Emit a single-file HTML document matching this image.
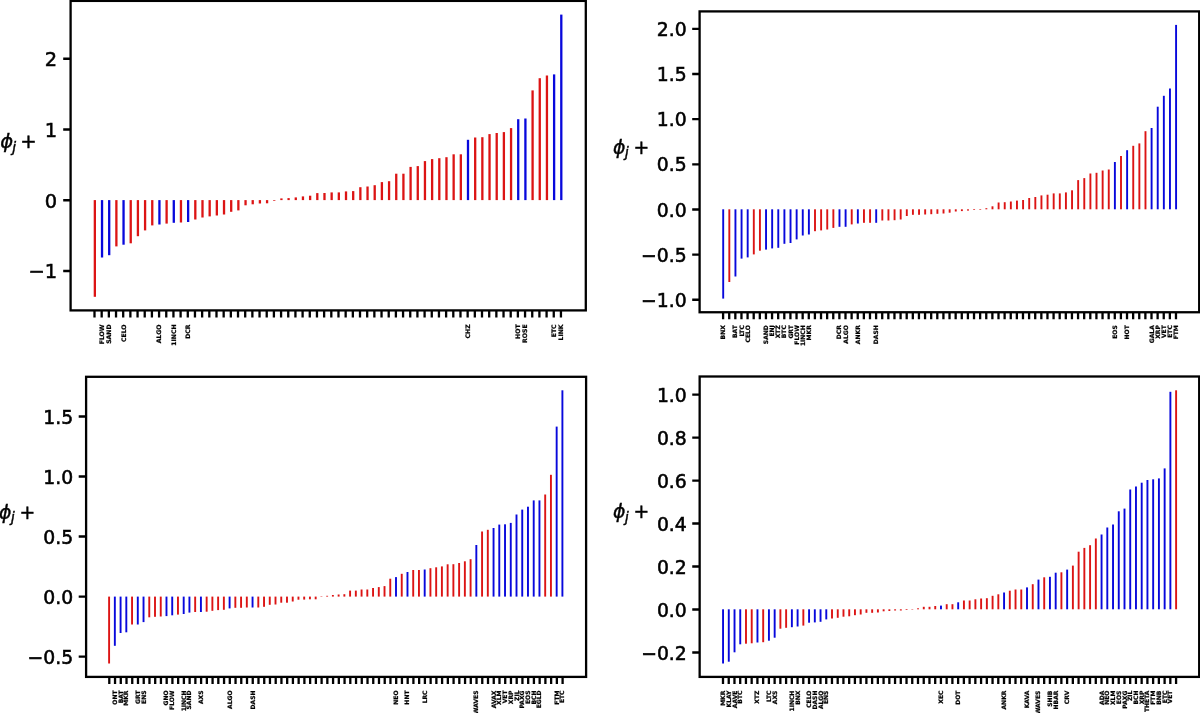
<!DOCTYPE html>
<html lang="en"><head><meta charset="utf-8"><title>phi_j stem plots</title>
<style>html,body{margin:0;padding:0;background:#fff}body{width:1200px;height:713px;overflow:hidden}svg{display:block}.yt{font-family:"DejaVu Sans","Liberation Sans",sans-serif;font-size:19.6px;fill:#000;stroke:#000;stroke-width:.55px}.xl{font-family:"DejaVu Sans","Liberation Sans",sans-serif;font-weight:bold;font-size:6px;fill:#000;stroke:#000;stroke-width:.22px}.yl{font-family:"DejaVu Sans","Liberation Sans",sans-serif;font-size:19.6px;fill:#000;stroke:#000;stroke-width:.45px}.it{font-style:italic}text{filter:grayscale(1)}</style></head><body>
<svg width="1200" height="713" viewBox="0 0 1200 713" style="opacity:.999">
<rect x="0" y="0" width="1200" height="713" fill="#fff"/>
<g id="plot1">
<rect x="93.70" y="200.10" width="2.30" height="96.70" fill="#dc1414"/>
<rect x="100.88" y="200.10" width="2.30" height="57.40" fill="#0808dc"/>
<rect x="108.05" y="200.10" width="2.30" height="55.10" fill="#0808dc"/>
<rect x="115.23" y="200.10" width="2.30" height="46.30" fill="#dc1414"/>
<rect x="122.40" y="200.10" width="2.30" height="44.60" fill="#0808dc"/>
<rect x="129.58" y="200.10" width="2.30" height="43.20" fill="#dc1414"/>
<rect x="136.76" y="200.10" width="2.30" height="36.10" fill="#dc1414"/>
<rect x="143.93" y="200.10" width="2.30" height="30.30" fill="#dc1414"/>
<rect x="151.11" y="200.10" width="2.30" height="25.30" fill="#dc1414"/>
<rect x="158.28" y="200.10" width="2.30" height="24.40" fill="#0808dc"/>
<rect x="165.46" y="200.10" width="2.30" height="23.50" fill="#dc1414"/>
<rect x="172.64" y="200.10" width="2.30" height="22.70" fill="#0808dc"/>
<rect x="179.81" y="200.10" width="2.30" height="22.40" fill="#dc1414"/>
<rect x="186.99" y="200.10" width="2.30" height="21.90" fill="#0808dc"/>
<rect x="194.16" y="200.10" width="2.30" height="19.40" fill="#dc1414"/>
<rect x="201.34" y="200.10" width="2.30" height="17.40" fill="#dc1414"/>
<rect x="208.52" y="200.10" width="2.30" height="16.30" fill="#dc1414"/>
<rect x="215.69" y="200.10" width="2.30" height="15.40" fill="#dc1414"/>
<rect x="222.87" y="200.10" width="2.30" height="14.40" fill="#dc1414"/>
<rect x="230.04" y="200.10" width="2.30" height="11.70" fill="#dc1414"/>
<rect x="237.22" y="200.10" width="2.30" height="10.30" fill="#dc1414"/>
<rect x="244.40" y="200.10" width="2.30" height="5.20" fill="#dc1414"/>
<rect x="251.57" y="200.10" width="2.30" height="4.20" fill="#dc1414"/>
<rect x="258.75" y="200.10" width="2.30" height="3.40" fill="#dc1414"/>
<rect x="265.92" y="200.10" width="2.30" height="3.20" fill="#dc1414"/>
<rect x="273.10" y="200.10" width="2.30" height="0.70" fill="#dc1414"/>
<rect x="280.28" y="198.40" width="2.30" height="1.70" fill="#dc1414"/>
<rect x="287.45" y="198.10" width="2.30" height="2.00" fill="#dc1414"/>
<rect x="294.63" y="197.40" width="2.30" height="2.70" fill="#dc1414"/>
<rect x="301.80" y="196.40" width="2.30" height="3.70" fill="#dc1414"/>
<rect x="308.98" y="195.70" width="2.30" height="4.40" fill="#dc1414"/>
<rect x="316.16" y="193.10" width="2.30" height="7.00" fill="#dc1414"/>
<rect x="323.33" y="193.00" width="2.30" height="7.10" fill="#dc1414"/>
<rect x="330.51" y="192.40" width="2.30" height="7.70" fill="#dc1414"/>
<rect x="337.68" y="192.40" width="2.30" height="7.70" fill="#dc1414"/>
<rect x="344.86" y="191.40" width="2.30" height="8.70" fill="#dc1414"/>
<rect x="352.04" y="191.10" width="2.30" height="9.00" fill="#dc1414"/>
<rect x="359.21" y="187.20" width="2.30" height="12.90" fill="#dc1414"/>
<rect x="366.39" y="186.50" width="2.30" height="13.60" fill="#dc1414"/>
<rect x="373.56" y="185.20" width="2.30" height="14.90" fill="#dc1414"/>
<rect x="380.74" y="182.10" width="2.30" height="18.00" fill="#dc1414"/>
<rect x="387.92" y="181.20" width="2.30" height="18.90" fill="#dc1414"/>
<rect x="395.09" y="173.70" width="2.30" height="26.40" fill="#dc1414"/>
<rect x="402.27" y="173.70" width="2.30" height="26.40" fill="#dc1414"/>
<rect x="409.44" y="166.90" width="2.30" height="33.20" fill="#dc1414"/>
<rect x="416.62" y="166.10" width="2.30" height="34.00" fill="#dc1414"/>
<rect x="423.80" y="161.10" width="2.30" height="39.00" fill="#dc1414"/>
<rect x="430.97" y="159.10" width="2.30" height="41.00" fill="#dc1414"/>
<rect x="438.15" y="158.20" width="2.30" height="41.90" fill="#dc1414"/>
<rect x="445.32" y="157.20" width="2.30" height="42.90" fill="#dc1414"/>
<rect x="452.50" y="154.30" width="2.30" height="45.80" fill="#dc1414"/>
<rect x="459.68" y="154.30" width="2.30" height="45.80" fill="#dc1414"/>
<rect x="466.85" y="139.80" width="2.30" height="60.30" fill="#0808dc"/>
<rect x="474.03" y="137.50" width="2.30" height="62.60" fill="#dc1414"/>
<rect x="481.20" y="137.20" width="2.30" height="62.90" fill="#dc1414"/>
<rect x="488.38" y="134.10" width="2.30" height="66.00" fill="#dc1414"/>
<rect x="495.56" y="133.00" width="2.30" height="67.10" fill="#dc1414"/>
<rect x="502.73" y="132.10" width="2.30" height="68.00" fill="#dc1414"/>
<rect x="509.91" y="128.10" width="2.30" height="72.00" fill="#dc1414"/>
<rect x="517.08" y="119.20" width="2.30" height="80.90" fill="#0808dc"/>
<rect x="524.26" y="118.50" width="2.30" height="81.60" fill="#0808dc"/>
<rect x="531.44" y="90.40" width="2.30" height="109.70" fill="#dc1414"/>
<rect x="538.61" y="78.20" width="2.30" height="121.90" fill="#dc1414"/>
<rect x="545.79" y="75.50" width="2.30" height="124.60" fill="#dc1414"/>
<rect x="552.96" y="74.40" width="2.30" height="125.70" fill="#0808dc"/>
<rect x="560.14" y="14.60" width="2.30" height="185.50" fill="#0808dc"/>
<rect x="70.60" y="0.90" width="515.20" height="309.50" fill="none" stroke="#000" stroke-width="2.3"/>
<path d="M94.50 310.40v7.00M101.68 310.40v7.00M108.85 310.40v7.00M116.03 310.40v7.00M123.20 310.40v7.00M130.38 310.40v7.00M137.56 310.40v7.00M144.73 310.40v7.00M151.91 310.40v7.00M159.08 310.40v7.00M166.26 310.40v7.00M173.44 310.40v7.00M180.61 310.40v7.00M187.79 310.40v7.00M194.96 310.40v7.00M202.14 310.40v7.00M209.32 310.40v7.00M216.49 310.40v7.00M223.67 310.40v7.00M230.84 310.40v7.00M238.02 310.40v7.00M245.20 310.40v7.00M252.37 310.40v7.00M259.55 310.40v7.00M266.72 310.40v7.00M273.90 310.40v7.00M281.08 310.40v7.00M288.25 310.40v7.00M295.43 310.40v7.00M302.60 310.40v7.00M309.78 310.40v7.00M316.96 310.40v7.00M324.13 310.40v7.00M331.31 310.40v7.00M338.48 310.40v7.00M345.66 310.40v7.00M352.84 310.40v7.00M360.01 310.40v7.00M367.19 310.40v7.00M374.36 310.40v7.00M381.54 310.40v7.00M388.72 310.40v7.00M395.89 310.40v7.00M403.07 310.40v7.00M410.24 310.40v7.00M417.42 310.40v7.00M424.60 310.40v7.00M431.77 310.40v7.00M438.95 310.40v7.00M446.12 310.40v7.00M453.30 310.40v7.00M460.48 310.40v7.00M467.65 310.40v7.00M474.83 310.40v7.00M482.00 310.40v7.00M489.18 310.40v7.00M496.36 310.40v7.00M503.53 310.40v7.00M510.71 310.40v7.00M517.88 310.40v7.00M525.06 310.40v7.00M532.24 310.40v7.00M539.41 310.40v7.00M546.59 310.40v7.00M553.76 310.40v7.00M560.94 310.40v7.00" stroke="#000" stroke-width="2.3" fill="none"/>
<path d="M70.60 58.75h-7.4M70.60 129.50h-7.4M70.60 200.25h-7.4M70.60 271.00h-7.4" stroke="#000" stroke-width="2.3" fill="none"/>
<text class="yt" style="font-size:19.4px" x="57.00" y="66.00" text-anchor="end">2</text>
<text class="yt" style="font-size:19.4px" x="57.00" y="137.00" text-anchor="end">1</text>
<text class="yt" style="font-size:19.4px" x="57.00" y="208.00" text-anchor="end">0</text>
<text class="yt" style="font-size:19.4px" x="57.00" y="278.00" text-anchor="end">−1</text>
<text class="xl" style="font-size:6.15px" transform="translate(104.03 324.40) rotate(-90)" text-anchor="end">FLOW</text>
<text class="xl" style="font-size:6.15px" transform="translate(111.20 324.40) rotate(-90)" text-anchor="end">SAND</text>
<text class="xl" style="font-size:6.15px" transform="translate(125.55 324.40) rotate(-90)" text-anchor="end">CELO</text>
<text class="xl" style="font-size:6.15px" transform="translate(161.43 324.40) rotate(-90)" text-anchor="end">ALGO</text>
<text class="xl" style="font-size:6.15px" transform="translate(175.79 324.40) rotate(-90)" text-anchor="end">1INCH</text>
<text class="xl" style="font-size:6.15px" transform="translate(190.14 324.40) rotate(-90)" text-anchor="end">DCR</text>
<text class="xl" style="font-size:6.15px" transform="translate(470.00 324.40) rotate(-90)" text-anchor="end">CHZ</text>
<text class="xl" style="font-size:6.15px" transform="translate(520.23 324.40) rotate(-90)" text-anchor="end">HOT</text>
<text class="xl" style="font-size:6.15px" transform="translate(527.41 324.40) rotate(-90)" text-anchor="end">ROSE</text>
<text class="xl" style="font-size:6.15px" transform="translate(556.11 324.40) rotate(-90)" text-anchor="end">ETC</text>
<text class="xl" style="font-size:6.15px" transform="translate(563.29 324.40) rotate(-90)" text-anchor="end">LINK</text>
<text class="yl" style="font-size:19.6px" x="0.30" y="148.00"><tspan class="it">ϕ</tspan><tspan class="it" style="font-size:13.7px" dy="3.7" dx="-1.1">j</tspan><tspan dy="-3.7" dx="4.4">+</tspan></text>
</g>
<g id="plot2">
<rect x="722.25" y="209.30" width="1.90" height="89.30" fill="#0808dc"/>
<rect x="728.37" y="209.30" width="1.90" height="72.70" fill="#dc1414"/>
<rect x="734.49" y="209.30" width="1.90" height="67.20" fill="#0808dc"/>
<rect x="740.61" y="209.30" width="1.90" height="49.30" fill="#0808dc"/>
<rect x="746.73" y="209.30" width="1.90" height="48.10" fill="#0808dc"/>
<rect x="752.85" y="209.30" width="1.90" height="45.10" fill="#dc1414"/>
<rect x="758.97" y="209.30" width="1.90" height="41.40" fill="#dc1414"/>
<rect x="765.09" y="209.30" width="1.90" height="40.30" fill="#0808dc"/>
<rect x="771.21" y="209.30" width="1.90" height="39.10" fill="#0808dc"/>
<rect x="777.33" y="209.30" width="1.90" height="38.50" fill="#0808dc"/>
<rect x="783.45" y="209.30" width="1.90" height="34.50" fill="#0808dc"/>
<rect x="789.57" y="209.30" width="1.90" height="33.70" fill="#0808dc"/>
<rect x="795.69" y="209.30" width="1.90" height="30.10" fill="#0808dc"/>
<rect x="801.81" y="209.30" width="1.90" height="26.20" fill="#0808dc"/>
<rect x="807.93" y="209.30" width="1.90" height="25.20" fill="#0808dc"/>
<rect x="814.05" y="209.30" width="1.90" height="21.90" fill="#dc1414"/>
<rect x="820.17" y="209.30" width="1.90" height="21.10" fill="#dc1414"/>
<rect x="826.29" y="209.30" width="1.90" height="20.20" fill="#dc1414"/>
<rect x="832.41" y="209.30" width="1.90" height="18.60" fill="#dc1414"/>
<rect x="838.53" y="209.30" width="1.90" height="17.50" fill="#0808dc"/>
<rect x="844.65" y="209.30" width="1.90" height="17.50" fill="#0808dc"/>
<rect x="850.77" y="209.30" width="1.90" height="15.10" fill="#dc1414"/>
<rect x="856.89" y="209.30" width="1.90" height="14.20" fill="#0808dc"/>
<rect x="863.01" y="209.30" width="1.90" height="13.50" fill="#dc1414"/>
<rect x="869.13" y="209.30" width="1.90" height="13.50" fill="#dc1414"/>
<rect x="875.25" y="209.30" width="1.90" height="13.50" fill="#0808dc"/>
<rect x="881.37" y="209.30" width="1.90" height="11.20" fill="#dc1414"/>
<rect x="887.49" y="209.30" width="1.90" height="11.20" fill="#dc1414"/>
<rect x="893.61" y="209.30" width="1.90" height="10.90" fill="#dc1414"/>
<rect x="899.73" y="209.30" width="1.90" height="10.20" fill="#dc1414"/>
<rect x="905.85" y="209.30" width="1.90" height="6.70" fill="#dc1414"/>
<rect x="911.97" y="209.30" width="1.90" height="5.50" fill="#dc1414"/>
<rect x="918.09" y="209.30" width="1.90" height="5.50" fill="#dc1414"/>
<rect x="924.21" y="209.30" width="1.90" height="5.20" fill="#dc1414"/>
<rect x="930.33" y="209.30" width="1.90" height="4.90" fill="#dc1414"/>
<rect x="936.45" y="209.30" width="1.90" height="4.50" fill="#dc1414"/>
<rect x="942.57" y="209.30" width="1.90" height="4.20" fill="#dc1414"/>
<rect x="948.69" y="209.30" width="1.90" height="3.40" fill="#dc1414"/>
<rect x="954.81" y="209.30" width="1.90" height="2.20" fill="#dc1414"/>
<rect x="960.93" y="209.30" width="1.90" height="1.80" fill="#dc1414"/>
<rect x="967.05" y="209.30" width="1.90" height="1.30" fill="#dc1414"/>
<rect x="973.17" y="209.30" width="1.90" height="0.70" fill="#dc1414"/>
<rect x="979.29" y="209.30" width="1.90" height="0.60" fill="#dc1414"/>
<rect x="985.41" y="208.20" width="1.90" height="1.10" fill="#dc1414"/>
<rect x="991.53" y="206.30" width="1.90" height="3.00" fill="#dc1414"/>
<rect x="997.65" y="202.50" width="1.90" height="6.80" fill="#dc1414"/>
<rect x="1003.77" y="202.20" width="1.90" height="7.10" fill="#dc1414"/>
<rect x="1009.89" y="201.50" width="1.90" height="7.80" fill="#dc1414"/>
<rect x="1016.01" y="200.60" width="1.90" height="8.70" fill="#dc1414"/>
<rect x="1022.13" y="200.00" width="1.90" height="9.30" fill="#dc1414"/>
<rect x="1028.25" y="198.00" width="1.90" height="11.30" fill="#dc1414"/>
<rect x="1034.37" y="197.00" width="1.90" height="12.30" fill="#dc1414"/>
<rect x="1040.49" y="195.40" width="1.90" height="13.90" fill="#dc1414"/>
<rect x="1046.61" y="194.70" width="1.90" height="14.60" fill="#dc1414"/>
<rect x="1052.73" y="193.40" width="1.90" height="15.90" fill="#dc1414"/>
<rect x="1058.85" y="193.40" width="1.90" height="15.90" fill="#dc1414"/>
<rect x="1064.97" y="192.40" width="1.90" height="16.90" fill="#dc1414"/>
<rect x="1071.09" y="190.30" width="1.90" height="19.00" fill="#dc1414"/>
<rect x="1077.21" y="180.10" width="1.90" height="29.20" fill="#dc1414"/>
<rect x="1083.33" y="178.10" width="1.90" height="31.20" fill="#dc1414"/>
<rect x="1089.45" y="173.50" width="1.90" height="35.80" fill="#dc1414"/>
<rect x="1095.57" y="172.80" width="1.90" height="36.50" fill="#dc1414"/>
<rect x="1101.69" y="170.50" width="1.90" height="38.80" fill="#dc1414"/>
<rect x="1107.81" y="169.50" width="1.90" height="39.80" fill="#dc1414"/>
<rect x="1113.93" y="162.00" width="1.90" height="47.30" fill="#0808dc"/>
<rect x="1120.05" y="156.00" width="1.90" height="53.30" fill="#dc1414"/>
<rect x="1126.17" y="150.20" width="1.90" height="59.10" fill="#0808dc"/>
<rect x="1132.29" y="145.80" width="1.90" height="63.50" fill="#dc1414"/>
<rect x="1138.41" y="143.40" width="1.90" height="65.90" fill="#dc1414"/>
<rect x="1144.53" y="131.20" width="1.90" height="78.10" fill="#dc1414"/>
<rect x="1150.65" y="128.00" width="1.90" height="81.30" fill="#0808dc"/>
<rect x="1156.77" y="106.70" width="1.90" height="102.60" fill="#0808dc"/>
<rect x="1162.89" y="95.80" width="1.90" height="113.50" fill="#0808dc"/>
<rect x="1169.01" y="88.50" width="1.90" height="120.80" fill="#0808dc"/>
<rect x="1175.13" y="24.90" width="1.90" height="184.40" fill="#0808dc"/>
<rect x="699.60" y="11.40" width="499.60" height="300.85" fill="none" stroke="#000" stroke-width="2.3"/>
<path d="M723.10 312.25v7.00M729.22 312.25v7.00M735.34 312.25v7.00M741.46 312.25v7.00M747.58 312.25v7.00M753.70 312.25v7.00M759.82 312.25v7.00M765.94 312.25v7.00M772.06 312.25v7.00M778.18 312.25v7.00M784.30 312.25v7.00M790.42 312.25v7.00M796.54 312.25v7.00M802.66 312.25v7.00M808.78 312.25v7.00M814.90 312.25v7.00M821.02 312.25v7.00M827.14 312.25v7.00M833.26 312.25v7.00M839.38 312.25v7.00M845.50 312.25v7.00M851.62 312.25v7.00M857.74 312.25v7.00M863.86 312.25v7.00M869.98 312.25v7.00M876.10 312.25v7.00M882.22 312.25v7.00M888.34 312.25v7.00M894.46 312.25v7.00M900.58 312.25v7.00M906.70 312.25v7.00M912.82 312.25v7.00M918.94 312.25v7.00M925.06 312.25v7.00M931.18 312.25v7.00M937.30 312.25v7.00M943.42 312.25v7.00M949.54 312.25v7.00M955.66 312.25v7.00M961.78 312.25v7.00M967.90 312.25v7.00M974.02 312.25v7.00M980.14 312.25v7.00M986.26 312.25v7.00M992.38 312.25v7.00M998.50 312.25v7.00M1004.62 312.25v7.00M1010.74 312.25v7.00M1016.86 312.25v7.00M1022.98 312.25v7.00M1029.10 312.25v7.00M1035.22 312.25v7.00M1041.34 312.25v7.00M1047.46 312.25v7.00M1053.58 312.25v7.00M1059.70 312.25v7.00M1065.82 312.25v7.00M1071.94 312.25v7.00M1078.06 312.25v7.00M1084.18 312.25v7.00M1090.30 312.25v7.00M1096.42 312.25v7.00M1102.54 312.25v7.00M1108.66 312.25v7.00M1114.78 312.25v7.00M1120.90 312.25v7.00M1127.02 312.25v7.00M1133.14 312.25v7.00M1139.26 312.25v7.00M1145.38 312.25v7.00M1151.50 312.25v7.00M1157.62 312.25v7.00M1163.74 312.25v7.00M1169.86 312.25v7.00M1175.98 312.25v7.00" stroke="#000" stroke-width="2.3" fill="none"/>
<path d="M699.60 28.90h-7.4M699.60 74.00h-7.4M699.60 119.20h-7.4M699.60 164.30h-7.4M699.60 209.50h-7.4M699.60 254.60h-7.4M699.60 299.75h-7.4" stroke="#000" stroke-width="2.3" fill="none"/>
<text class="yt" style="font-size:18.8px" x="686.70" y="36.00" text-anchor="end">2.0</text>
<text class="yt" style="font-size:18.8px" x="686.70" y="81.00" text-anchor="end">1.5</text>
<text class="yt" style="font-size:18.8px" x="686.70" y="126.00" text-anchor="end">1.0</text>
<text class="yt" style="font-size:18.8px" x="686.70" y="171.00" text-anchor="end">0.5</text>
<text class="yt" style="font-size:18.8px" x="686.70" y="217.00" text-anchor="end">0.0</text>
<text class="yt" style="font-size:18.8px" x="686.70" y="262.00" text-anchor="end">−0.5</text>
<text class="yt" style="font-size:18.8px" x="686.70" y="307.00" text-anchor="end">−1.0</text>
<text class="xl" style="font-size:6px" transform="translate(725.20 325.20) rotate(-90)" text-anchor="end">BNX</text>
<text class="xl" style="font-size:6px" transform="translate(737.44 325.20) rotate(-90)" text-anchor="end">BAT</text>
<text class="xl" style="font-size:6px" transform="translate(743.56 325.20) rotate(-90)" text-anchor="end">LTC</text>
<text class="xl" style="font-size:6px" transform="translate(749.68 325.20) rotate(-90)" text-anchor="end">CELO</text>
<text class="xl" style="font-size:6px" transform="translate(768.04 325.20) rotate(-90)" text-anchor="end">SAND</text>
<text class="xl" style="font-size:6px" transform="translate(774.16 325.20) rotate(-90)" text-anchor="end">ENJ</text>
<text class="xl" style="font-size:6px" transform="translate(780.28 325.20) rotate(-90)" text-anchor="end">XTZ</text>
<text class="xl" style="font-size:6px" transform="translate(786.40 325.20) rotate(-90)" text-anchor="end">BTC</text>
<text class="xl" style="font-size:6px" transform="translate(792.52 325.20) rotate(-90)" text-anchor="end">GRT</text>
<text class="xl" style="font-size:6px" transform="translate(798.64 325.20) rotate(-90)" text-anchor="end">FLOW</text>
<text class="xl" style="font-size:6px" transform="translate(804.76 325.20) rotate(-90)" text-anchor="end">1INCH</text>
<text class="xl" style="font-size:6px" transform="translate(810.88 325.20) rotate(-90)" text-anchor="end">MKR</text>
<text class="xl" style="font-size:6px" transform="translate(841.48 325.20) rotate(-90)" text-anchor="end">DCR</text>
<text class="xl" style="font-size:6px" transform="translate(847.60 325.20) rotate(-90)" text-anchor="end">ALGO</text>
<text class="xl" style="font-size:6px" transform="translate(859.84 325.20) rotate(-90)" text-anchor="end">ANKR</text>
<text class="xl" style="font-size:6px" transform="translate(878.20 325.20) rotate(-90)" text-anchor="end">DASH</text>
<text class="xl" style="font-size:6px" transform="translate(1116.88 325.20) rotate(-90)" text-anchor="end">EOS</text>
<text class="xl" style="font-size:6px" transform="translate(1129.12 325.20) rotate(-90)" text-anchor="end">HOT</text>
<text class="xl" style="font-size:6px" transform="translate(1153.60 325.20) rotate(-90)" text-anchor="end">GALA</text>
<text class="xl" style="font-size:6px" transform="translate(1159.72 325.20) rotate(-90)" text-anchor="end">XRP</text>
<text class="xl" style="font-size:6px" transform="translate(1165.84 325.20) rotate(-90)" text-anchor="end">VET</text>
<text class="xl" style="font-size:6px" transform="translate(1171.96 325.20) rotate(-90)" text-anchor="end">ETC</text>
<text class="xl" style="font-size:6px" transform="translate(1178.08 325.20) rotate(-90)" text-anchor="end">FTM</text>
<text class="yl" style="font-size:18.8px" x="613.00" y="153.50"><tspan class="it">ϕ</tspan><tspan class="it" style="font-size:13.2px" dy="3.6" dx="-0.3">j</tspan><tspan dy="-3.6" dx="4.7">+</tspan></text>
</g>
<g id="plot3">
<rect x="108.15" y="596.60" width="1.90" height="66.90" fill="#dc1414"/>
<rect x="113.89" y="596.60" width="1.90" height="49.20" fill="#0808dc"/>
<rect x="119.63" y="596.60" width="1.90" height="36.40" fill="#0808dc"/>
<rect x="125.36" y="596.60" width="1.90" height="35.70" fill="#0808dc"/>
<rect x="131.10" y="596.60" width="1.90" height="27.90" fill="#dc1414"/>
<rect x="136.84" y="596.60" width="1.90" height="27.90" fill="#0808dc"/>
<rect x="142.58" y="596.60" width="1.90" height="25.50" fill="#0808dc"/>
<rect x="148.32" y="596.60" width="1.90" height="20.70" fill="#dc1414"/>
<rect x="154.05" y="596.60" width="1.90" height="20.20" fill="#dc1414"/>
<rect x="159.79" y="596.60" width="1.90" height="19.90" fill="#dc1414"/>
<rect x="165.53" y="596.60" width="1.90" height="19.50" fill="#0808dc"/>
<rect x="171.27" y="596.60" width="1.90" height="18.70" fill="#0808dc"/>
<rect x="177.01" y="596.60" width="1.90" height="18.00" fill="#dc1414"/>
<rect x="182.74" y="596.60" width="1.90" height="17.40" fill="#0808dc"/>
<rect x="188.48" y="596.60" width="1.90" height="16.00" fill="#0808dc"/>
<rect x="194.22" y="596.60" width="1.90" height="15.40" fill="#dc1414"/>
<rect x="199.96" y="596.60" width="1.90" height="15.40" fill="#0808dc"/>
<rect x="205.70" y="596.60" width="1.90" height="15.10" fill="#dc1414"/>
<rect x="211.43" y="596.60" width="1.90" height="14.20" fill="#dc1414"/>
<rect x="217.17" y="596.60" width="1.90" height="13.50" fill="#dc1414"/>
<rect x="222.91" y="596.60" width="1.90" height="13.20" fill="#dc1414"/>
<rect x="228.65" y="596.60" width="1.90" height="11.80" fill="#0808dc"/>
<rect x="234.39" y="596.60" width="1.90" height="11.20" fill="#dc1414"/>
<rect x="240.12" y="596.60" width="1.90" height="11.20" fill="#dc1414"/>
<rect x="245.86" y="596.60" width="1.90" height="10.90" fill="#dc1414"/>
<rect x="251.60" y="596.60" width="1.90" height="10.90" fill="#0808dc"/>
<rect x="257.34" y="596.60" width="1.90" height="10.90" fill="#dc1414"/>
<rect x="263.08" y="596.60" width="1.90" height="10.20" fill="#dc1414"/>
<rect x="268.81" y="596.60" width="1.90" height="8.20" fill="#dc1414"/>
<rect x="274.55" y="596.60" width="1.90" height="7.90" fill="#dc1414"/>
<rect x="280.29" y="596.60" width="1.90" height="6.10" fill="#dc1414"/>
<rect x="286.03" y="596.60" width="1.90" height="6.10" fill="#dc1414"/>
<rect x="291.77" y="596.60" width="1.90" height="4.90" fill="#dc1414"/>
<rect x="297.50" y="596.60" width="1.90" height="3.10" fill="#dc1414"/>
<rect x="303.24" y="596.60" width="1.90" height="3.00" fill="#dc1414"/>
<rect x="308.98" y="596.60" width="1.90" height="2.70" fill="#dc1414"/>
<rect x="314.72" y="596.60" width="1.90" height="2.70" fill="#dc1414"/>
<rect x="320.46" y="596.60" width="1.90" height="0.40" fill="#dc1414"/>
<rect x="326.19" y="595.80" width="1.90" height="0.80" fill="#dc1414"/>
<rect x="331.93" y="595.00" width="1.90" height="1.60" fill="#dc1414"/>
<rect x="337.67" y="594.50" width="1.90" height="2.10" fill="#dc1414"/>
<rect x="343.41" y="594.20" width="1.90" height="2.40" fill="#dc1414"/>
<rect x="349.15" y="590.60" width="1.90" height="6.00" fill="#dc1414"/>
<rect x="354.88" y="590.60" width="1.90" height="6.00" fill="#dc1414"/>
<rect x="360.62" y="589.50" width="1.90" height="7.10" fill="#dc1414"/>
<rect x="366.36" y="589.50" width="1.90" height="7.10" fill="#dc1414"/>
<rect x="372.10" y="588.00" width="1.90" height="8.60" fill="#dc1414"/>
<rect x="377.84" y="587.10" width="1.90" height="9.50" fill="#dc1414"/>
<rect x="383.57" y="586.10" width="1.90" height="10.50" fill="#dc1414"/>
<rect x="389.31" y="578.70" width="1.90" height="17.90" fill="#dc1414"/>
<rect x="395.05" y="577.10" width="1.90" height="19.50" fill="#0808dc"/>
<rect x="400.79" y="573.80" width="1.90" height="22.80" fill="#dc1414"/>
<rect x="406.53" y="572.00" width="1.90" height="24.60" fill="#0808dc"/>
<rect x="412.26" y="570.00" width="1.90" height="26.60" fill="#dc1414"/>
<rect x="418.00" y="570.00" width="1.90" height="26.60" fill="#dc1414"/>
<rect x="423.74" y="569.50" width="1.90" height="27.10" fill="#0808dc"/>
<rect x="429.48" y="568.20" width="1.90" height="28.40" fill="#dc1414"/>
<rect x="435.22" y="567.30" width="1.90" height="29.30" fill="#dc1414"/>
<rect x="440.95" y="566.40" width="1.90" height="30.20" fill="#dc1414"/>
<rect x="446.69" y="564.30" width="1.90" height="32.30" fill="#dc1414"/>
<rect x="452.43" y="564.20" width="1.90" height="32.40" fill="#dc1414"/>
<rect x="458.17" y="563.00" width="1.90" height="33.60" fill="#dc1414"/>
<rect x="463.91" y="561.30" width="1.90" height="35.30" fill="#dc1414"/>
<rect x="469.64" y="559.20" width="1.90" height="37.40" fill="#dc1414"/>
<rect x="475.38" y="545.00" width="1.90" height="51.60" fill="#0808dc"/>
<rect x="481.12" y="531.50" width="1.90" height="65.10" fill="#dc1414"/>
<rect x="486.86" y="529.80" width="1.90" height="66.80" fill="#dc1414"/>
<rect x="492.60" y="528.00" width="1.90" height="68.60" fill="#0808dc"/>
<rect x="498.33" y="524.60" width="1.90" height="72.00" fill="#0808dc"/>
<rect x="504.07" y="524.30" width="1.90" height="72.30" fill="#0808dc"/>
<rect x="509.81" y="522.90" width="1.90" height="73.70" fill="#0808dc"/>
<rect x="515.55" y="514.50" width="1.90" height="82.10" fill="#0808dc"/>
<rect x="521.29" y="509.60" width="1.90" height="87.00" fill="#0808dc"/>
<rect x="527.02" y="506.70" width="1.90" height="89.90" fill="#0808dc"/>
<rect x="532.76" y="500.40" width="1.90" height="96.20" fill="#0808dc"/>
<rect x="538.50" y="500.40" width="1.90" height="96.20" fill="#0808dc"/>
<rect x="544.24" y="494.50" width="1.90" height="102.10" fill="#dc1414"/>
<rect x="549.98" y="474.80" width="1.90" height="121.80" fill="#dc1414"/>
<rect x="555.71" y="426.60" width="1.90" height="170.00" fill="#0808dc"/>
<rect x="561.45" y="390.30" width="1.90" height="206.30" fill="#0808dc"/>
<rect x="86.10" y="376.80" width="500.00" height="300.10" fill="none" stroke="#000" stroke-width="2.3"/>
<path d="M109.30 676.90v7.00M115.04 676.90v7.00M120.78 676.90v7.00M126.51 676.90v7.00M132.25 676.90v7.00M137.99 676.90v7.00M143.73 676.90v7.00M149.47 676.90v7.00M155.20 676.90v7.00M160.94 676.90v7.00M166.68 676.90v7.00M172.42 676.90v7.00M178.16 676.90v7.00M183.89 676.90v7.00M189.63 676.90v7.00M195.37 676.90v7.00M201.11 676.90v7.00M206.85 676.90v7.00M212.58 676.90v7.00M218.32 676.90v7.00M224.06 676.90v7.00M229.80 676.90v7.00M235.54 676.90v7.00M241.27 676.90v7.00M247.01 676.90v7.00M252.75 676.90v7.00M258.49 676.90v7.00M264.23 676.90v7.00M269.96 676.90v7.00M275.70 676.90v7.00M281.44 676.90v7.00M287.18 676.90v7.00M292.92 676.90v7.00M298.65 676.90v7.00M304.39 676.90v7.00M310.13 676.90v7.00M315.87 676.90v7.00M321.61 676.90v7.00M327.34 676.90v7.00M333.08 676.90v7.00M338.82 676.90v7.00M344.56 676.90v7.00M350.30 676.90v7.00M356.03 676.90v7.00M361.77 676.90v7.00M367.51 676.90v7.00M373.25 676.90v7.00M378.99 676.90v7.00M384.72 676.90v7.00M390.46 676.90v7.00M396.20 676.90v7.00M401.94 676.90v7.00M407.68 676.90v7.00M413.41 676.90v7.00M419.15 676.90v7.00M424.89 676.90v7.00M430.63 676.90v7.00M436.37 676.90v7.00M442.10 676.90v7.00M447.84 676.90v7.00M453.58 676.90v7.00M459.32 676.90v7.00M465.06 676.90v7.00M470.79 676.90v7.00M476.53 676.90v7.00M482.27 676.90v7.00M488.01 676.90v7.00M493.75 676.90v7.00M499.48 676.90v7.00M505.22 676.90v7.00M510.96 676.90v7.00M516.70 676.90v7.00M522.44 676.90v7.00M528.17 676.90v7.00M533.91 676.90v7.00M539.65 676.90v7.00M545.39 676.90v7.00M551.13 676.90v7.00M556.86 676.90v7.00M562.60 676.90v7.00" stroke="#000" stroke-width="2.3" fill="none"/>
<path d="M86.10 416.50h-7.4M86.10 476.50h-7.4M86.10 536.50h-7.4M86.10 596.60h-7.4M86.10 656.60h-7.4" stroke="#000" stroke-width="2.3" fill="none"/>
<text class="yt" style="font-size:18.8px" x="73.20" y="424.00" text-anchor="end">1.5</text>
<text class="yt" style="font-size:18.8px" x="73.20" y="484.00" text-anchor="end">1.0</text>
<text class="yt" style="font-size:18.8px" x="73.20" y="544.00" text-anchor="end">0.5</text>
<text class="yt" style="font-size:18.8px" x="73.20" y="604.00" text-anchor="end">0.0</text>
<text class="yt" style="font-size:18.8px" x="73.20" y="664.00" text-anchor="end">−0.5</text>
<text class="xl" style="font-size:6px" transform="translate(116.84 690.50) rotate(-90)" text-anchor="end">ONT</text>
<text class="xl" style="font-size:6px" transform="translate(122.58 690.50) rotate(-90)" text-anchor="end">BAT</text>
<text class="xl" style="font-size:6px" transform="translate(128.31 690.50) rotate(-90)" text-anchor="end">MKR</text>
<text class="xl" style="font-size:6px" transform="translate(139.79 690.50) rotate(-90)" text-anchor="end">GRT</text>
<text class="xl" style="font-size:6px" transform="translate(145.53 690.50) rotate(-90)" text-anchor="end">ENS</text>
<text class="xl" style="font-size:6px" transform="translate(168.48 690.50) rotate(-90)" text-anchor="end">GNO</text>
<text class="xl" style="font-size:6px" transform="translate(174.22 690.50) rotate(-90)" text-anchor="end">FLOW</text>
<text class="xl" style="font-size:6px" transform="translate(185.69 690.50) rotate(-90)" text-anchor="end">1INCH</text>
<text class="xl" style="font-size:6px" transform="translate(191.43 690.50) rotate(-90)" text-anchor="end">SAND</text>
<text class="xl" style="font-size:6px" transform="translate(202.91 690.50) rotate(-90)" text-anchor="end">AXS</text>
<text class="xl" style="font-size:6px" transform="translate(231.60 690.50) rotate(-90)" text-anchor="end">ALGO</text>
<text class="xl" style="font-size:6px" transform="translate(254.55 690.50) rotate(-90)" text-anchor="end">DASH</text>
<text class="xl" style="font-size:6px" transform="translate(398.00 690.50) rotate(-90)" text-anchor="end">NEO</text>
<text class="xl" style="font-size:6px" transform="translate(409.48 690.50) rotate(-90)" text-anchor="end">HNT</text>
<text class="xl" style="font-size:6px" transform="translate(426.69 690.50) rotate(-90)" text-anchor="end">LRC</text>
<text class="xl" style="font-size:6px" transform="translate(478.33 690.50) rotate(-90)" text-anchor="end">WAVES</text>
<text class="xl" style="font-size:6px" transform="translate(495.55 690.50) rotate(-90)" text-anchor="end">AVAX</text>
<text class="xl" style="font-size:6px" transform="translate(501.28 690.50) rotate(-90)" text-anchor="end">XLM</text>
<text class="xl" style="font-size:6px" transform="translate(507.02 690.50) rotate(-90)" text-anchor="end">VET</text>
<text class="xl" style="font-size:6px" transform="translate(512.76 690.50) rotate(-90)" text-anchor="end">XRP</text>
<text class="xl" style="font-size:6px" transform="translate(518.50 690.50) rotate(-90)" text-anchor="end">ZIL</text>
<text class="xl" style="font-size:6px" transform="translate(524.24 690.50) rotate(-90)" text-anchor="end">PAXG</text>
<text class="xl" style="font-size:6px" transform="translate(529.97 690.50) rotate(-90)" text-anchor="end">EOS</text>
<text class="xl" style="font-size:6px" transform="translate(535.71 690.50) rotate(-90)" text-anchor="end">BCH</text>
<text class="xl" style="font-size:6px" transform="translate(541.45 690.50) rotate(-90)" text-anchor="end">EGLD</text>
<text class="xl" style="font-size:6px" transform="translate(558.66 690.50) rotate(-90)" text-anchor="end">FTM</text>
<text class="xl" style="font-size:6px" transform="translate(564.40 690.50) rotate(-90)" text-anchor="end">ETC</text>
<text class="yl" style="font-size:18.8px" x="-1.00" y="518.50"><tspan class="it">ϕ</tspan><tspan class="it" style="font-size:13.2px" dy="3.6" dx="-0.3">j</tspan><tspan dy="-3.6" dx="4.7">+</tspan></text>
</g>
<g id="plot4">
<rect x="722.10" y="609.30" width="1.90" height="54.20" fill="#0808dc"/>
<rect x="727.83" y="609.30" width="1.90" height="52.40" fill="#0808dc"/>
<rect x="733.57" y="609.30" width="1.90" height="43.00" fill="#0808dc"/>
<rect x="739.30" y="609.30" width="1.90" height="35.00" fill="#0808dc"/>
<rect x="745.04" y="609.30" width="1.90" height="34.40" fill="#dc1414"/>
<rect x="750.77" y="609.30" width="1.90" height="34.00" fill="#dc1414"/>
<rect x="756.51" y="609.30" width="1.90" height="33.20" fill="#0808dc"/>
<rect x="762.24" y="609.30" width="1.90" height="32.90" fill="#dc1414"/>
<rect x="767.98" y="609.30" width="1.90" height="31.40" fill="#0808dc"/>
<rect x="773.71" y="609.30" width="1.90" height="28.40" fill="#0808dc"/>
<rect x="779.45" y="609.30" width="1.90" height="19.40" fill="#dc1414"/>
<rect x="785.18" y="609.30" width="1.90" height="18.50" fill="#dc1414"/>
<rect x="790.92" y="609.30" width="1.90" height="17.90" fill="#0808dc"/>
<rect x="796.65" y="609.30" width="1.90" height="17.20" fill="#0808dc"/>
<rect x="802.39" y="609.30" width="1.90" height="16.30" fill="#dc1414"/>
<rect x="808.12" y="609.30" width="1.90" height="13.40" fill="#0808dc"/>
<rect x="813.86" y="609.30" width="1.90" height="13.10" fill="#0808dc"/>
<rect x="819.59" y="609.30" width="1.90" height="12.50" fill="#0808dc"/>
<rect x="825.33" y="609.30" width="1.90" height="10.10" fill="#0808dc"/>
<rect x="831.06" y="609.30" width="1.90" height="9.20" fill="#dc1414"/>
<rect x="836.80" y="609.30" width="1.90" height="8.50" fill="#dc1414"/>
<rect x="842.53" y="609.30" width="1.90" height="7.40" fill="#dc1414"/>
<rect x="848.27" y="609.30" width="1.90" height="7.00" fill="#dc1414"/>
<rect x="854.00" y="609.30" width="1.90" height="5.90" fill="#dc1414"/>
<rect x="859.74" y="609.30" width="1.90" height="5.20" fill="#dc1414"/>
<rect x="865.47" y="609.30" width="1.90" height="3.50" fill="#dc1414"/>
<rect x="871.21" y="609.30" width="1.90" height="3.50" fill="#dc1414"/>
<rect x="876.94" y="609.30" width="1.90" height="3.20" fill="#dc1414"/>
<rect x="882.68" y="609.30" width="1.90" height="2.00" fill="#dc1414"/>
<rect x="888.41" y="609.30" width="1.90" height="1.70" fill="#dc1414"/>
<rect x="894.15" y="609.30" width="1.90" height="1.20" fill="#dc1414"/>
<rect x="899.88" y="609.30" width="1.90" height="1.20" fill="#dc1414"/>
<rect x="905.62" y="609.30" width="1.90" height="0.70" fill="#dc1414"/>
<rect x="911.35" y="609.30" width="1.90" height="0.40" fill="#dc1414"/>
<rect x="917.09" y="608.30" width="1.90" height="1.00" fill="#dc1414"/>
<rect x="922.82" y="606.80" width="1.90" height="2.50" fill="#dc1414"/>
<rect x="928.56" y="606.80" width="1.90" height="2.50" fill="#dc1414"/>
<rect x="934.29" y="606.00" width="1.90" height="3.30" fill="#dc1414"/>
<rect x="940.03" y="605.60" width="1.90" height="3.70" fill="#0808dc"/>
<rect x="945.76" y="604.20" width="1.90" height="5.10" fill="#dc1414"/>
<rect x="951.50" y="604.20" width="1.90" height="5.10" fill="#dc1414"/>
<rect x="957.23" y="602.30" width="1.90" height="7.00" fill="#0808dc"/>
<rect x="962.97" y="600.50" width="1.90" height="8.80" fill="#dc1414"/>
<rect x="968.70" y="600.50" width="1.90" height="8.80" fill="#dc1414"/>
<rect x="974.44" y="599.30" width="1.90" height="10.00" fill="#dc1414"/>
<rect x="980.17" y="598.50" width="1.90" height="10.80" fill="#dc1414"/>
<rect x="985.91" y="598.20" width="1.90" height="11.10" fill="#dc1414"/>
<rect x="991.64" y="595.80" width="1.90" height="13.50" fill="#dc1414"/>
<rect x="997.38" y="594.30" width="1.90" height="15.00" fill="#dc1414"/>
<rect x="1003.12" y="592.50" width="1.90" height="16.80" fill="#0808dc"/>
<rect x="1008.85" y="590.70" width="1.90" height="18.60" fill="#dc1414"/>
<rect x="1014.58" y="589.50" width="1.90" height="19.80" fill="#dc1414"/>
<rect x="1020.32" y="589.50" width="1.90" height="19.80" fill="#dc1414"/>
<rect x="1026.06" y="587.40" width="1.90" height="21.90" fill="#0808dc"/>
<rect x="1031.79" y="584.20" width="1.90" height="25.10" fill="#dc1414"/>
<rect x="1037.52" y="579.60" width="1.90" height="29.70" fill="#0808dc"/>
<rect x="1043.26" y="577.30" width="1.90" height="32.00" fill="#dc1414"/>
<rect x="1048.99" y="576.80" width="1.90" height="32.50" fill="#0808dc"/>
<rect x="1054.73" y="572.70" width="1.90" height="36.60" fill="#0808dc"/>
<rect x="1060.46" y="572.30" width="1.90" height="37.00" fill="#dc1414"/>
<rect x="1066.20" y="569.60" width="1.90" height="39.70" fill="#0808dc"/>
<rect x="1071.93" y="565.60" width="1.90" height="43.70" fill="#dc1414"/>
<rect x="1077.67" y="551.70" width="1.90" height="57.60" fill="#dc1414"/>
<rect x="1083.40" y="547.90" width="1.90" height="61.40" fill="#dc1414"/>
<rect x="1089.14" y="545.20" width="1.90" height="64.10" fill="#dc1414"/>
<rect x="1094.88" y="538.50" width="1.90" height="70.80" fill="#dc1414"/>
<rect x="1100.61" y="534.50" width="1.90" height="74.80" fill="#0808dc"/>
<rect x="1106.35" y="527.50" width="1.90" height="81.80" fill="#0808dc"/>
<rect x="1112.08" y="524.50" width="1.90" height="84.80" fill="#0808dc"/>
<rect x="1117.81" y="511.30" width="1.90" height="98.00" fill="#0808dc"/>
<rect x="1123.55" y="508.60" width="1.90" height="100.70" fill="#0808dc"/>
<rect x="1129.28" y="489.50" width="1.90" height="119.80" fill="#0808dc"/>
<rect x="1135.02" y="486.50" width="1.90" height="122.80" fill="#0808dc"/>
<rect x="1140.75" y="482.70" width="1.90" height="126.60" fill="#0808dc"/>
<rect x="1146.49" y="480.00" width="1.90" height="129.30" fill="#0808dc"/>
<rect x="1152.22" y="479.30" width="1.90" height="130.00" fill="#0808dc"/>
<rect x="1157.96" y="478.40" width="1.90" height="130.90" fill="#0808dc"/>
<rect x="1163.69" y="468.40" width="1.90" height="140.90" fill="#0808dc"/>
<rect x="1169.43" y="391.80" width="1.90" height="217.50" fill="#0808dc"/>
<rect x="1175.16" y="390.30" width="1.90" height="219.00" fill="#dc1414"/>
<rect x="699.65" y="376.50" width="499.55" height="300.40" fill="none" stroke="#000" stroke-width="2.3"/>
<path d="M723.00 676.90v7.00M728.74 676.90v7.00M734.47 676.90v7.00M740.21 676.90v7.00M745.94 676.90v7.00M751.67 676.90v7.00M757.41 676.90v7.00M763.14 676.90v7.00M768.88 676.90v7.00M774.62 676.90v7.00M780.35 676.90v7.00M786.09 676.90v7.00M791.82 676.90v7.00M797.56 676.90v7.00M803.29 676.90v7.00M809.02 676.90v7.00M814.76 676.90v7.00M820.50 676.90v7.00M826.23 676.90v7.00M831.97 676.90v7.00M837.70 676.90v7.00M843.43 676.90v7.00M849.17 676.90v7.00M854.90 676.90v7.00M860.64 676.90v7.00M866.38 676.90v7.00M872.11 676.90v7.00M877.85 676.90v7.00M883.58 676.90v7.00M889.32 676.90v7.00M895.05 676.90v7.00M900.78 676.90v7.00M906.52 676.90v7.00M912.25 676.90v7.00M917.99 676.90v7.00M923.73 676.90v7.00M929.46 676.90v7.00M935.20 676.90v7.00M940.93 676.90v7.00M946.66 676.90v7.00M952.40 676.90v7.00M958.13 676.90v7.00M963.87 676.90v7.00M969.61 676.90v7.00M975.34 676.90v7.00M981.08 676.90v7.00M986.81 676.90v7.00M992.55 676.90v7.00M998.28 676.90v7.00M1004.02 676.90v7.00M1009.75 676.90v7.00M1015.49 676.90v7.00M1021.22 676.90v7.00M1026.95 676.90v7.00M1032.69 676.90v7.00M1038.42 676.90v7.00M1044.16 676.90v7.00M1049.89 676.90v7.00M1055.63 676.90v7.00M1061.37 676.90v7.00M1067.10 676.90v7.00M1072.84 676.90v7.00M1078.57 676.90v7.00M1084.31 676.90v7.00M1090.04 676.90v7.00M1095.78 676.90v7.00M1101.51 676.90v7.00M1107.24 676.90v7.00M1112.98 676.90v7.00M1118.72 676.90v7.00M1124.45 676.90v7.00M1130.18 676.90v7.00M1135.92 676.90v7.00M1141.65 676.90v7.00M1147.39 676.90v7.00M1153.12 676.90v7.00M1158.86 676.90v7.00M1164.60 676.90v7.00M1170.33 676.90v7.00M1176.07 676.90v7.00" stroke="#000" stroke-width="2.3" fill="none"/>
<path d="M699.65 394.60h-7.4M699.65 437.60h-7.4M699.65 480.60h-7.4M699.65 523.50h-7.4M699.65 566.50h-7.4M699.65 609.50h-7.4M699.65 652.50h-7.4" stroke="#000" stroke-width="2.3" fill="none"/>
<text class="yt" style="font-size:18.8px" x="686.75" y="402.00" text-anchor="end">1.0</text>
<text class="yt" style="font-size:18.8px" x="686.75" y="445.00" text-anchor="end">0.8</text>
<text class="yt" style="font-size:18.8px" x="686.75" y="488.00" text-anchor="end">0.6</text>
<text class="yt" style="font-size:18.8px" x="686.75" y="531.00" text-anchor="end">0.4</text>
<text class="yt" style="font-size:18.8px" x="686.75" y="574.00" text-anchor="end">0.2</text>
<text class="yt" style="font-size:18.8px" x="686.75" y="617.00" text-anchor="end">0.0</text>
<text class="yt" style="font-size:18.8px" x="686.75" y="660.00" text-anchor="end">−0.2</text>
<text class="xl" style="font-size:6px" transform="translate(725.05 690.60) rotate(-90)" text-anchor="end">MKR</text>
<text class="xl" style="font-size:6px" transform="translate(730.78 690.60) rotate(-90)" text-anchor="end">KLAY</text>
<text class="xl" style="font-size:6px" transform="translate(736.52 690.60) rotate(-90)" text-anchor="end">AAVE</text>
<text class="xl" style="font-size:6px" transform="translate(742.25 690.60) rotate(-90)" text-anchor="end">BTC</text>
<text class="xl" style="font-size:6px" transform="translate(759.46 690.60) rotate(-90)" text-anchor="end">XTZ</text>
<text class="xl" style="font-size:6px" transform="translate(770.93 690.60) rotate(-90)" text-anchor="end">LTC</text>
<text class="xl" style="font-size:6px" transform="translate(776.66 690.60) rotate(-90)" text-anchor="end">AXS</text>
<text class="xl" style="font-size:6px" transform="translate(793.87 690.60) rotate(-90)" text-anchor="end">1INCH</text>
<text class="xl" style="font-size:6px" transform="translate(799.61 690.60) rotate(-90)" text-anchor="end">BNX</text>
<text class="xl" style="font-size:6px" transform="translate(811.07 690.60) rotate(-90)" text-anchor="end">CELO</text>
<text class="xl" style="font-size:6px" transform="translate(816.81 690.60) rotate(-90)" text-anchor="end">DASH</text>
<text class="xl" style="font-size:6px" transform="translate(822.54 690.60) rotate(-90)" text-anchor="end">ALGO</text>
<text class="xl" style="font-size:6px" transform="translate(828.28 690.60) rotate(-90)" text-anchor="end">ENS</text>
<text class="xl" style="font-size:6px" transform="translate(942.98 690.60) rotate(-90)" text-anchor="end">XEC</text>
<text class="xl" style="font-size:6px" transform="translate(960.18 690.60) rotate(-90)" text-anchor="end">DOT</text>
<text class="xl" style="font-size:6px" transform="translate(1006.07 690.60) rotate(-90)" text-anchor="end">ANKR</text>
<text class="xl" style="font-size:6px" transform="translate(1029.01 690.60) rotate(-90)" text-anchor="end">KAVA</text>
<text class="xl" style="font-size:6px" transform="translate(1040.47 690.60) rotate(-90)" text-anchor="end">WAVES</text>
<text class="xl" style="font-size:6px" transform="translate(1051.94 690.60) rotate(-90)" text-anchor="end">SHIB</text>
<text class="xl" style="font-size:6px" transform="translate(1057.68 690.60) rotate(-90)" text-anchor="end">HBAR</text>
<text class="xl" style="font-size:6px" transform="translate(1069.15 690.60) rotate(-90)" text-anchor="end">CRV</text>
<text class="xl" style="font-size:6px" transform="translate(1103.56 690.60) rotate(-90)" text-anchor="end">ADA</text>
<text class="xl" style="font-size:6px" transform="translate(1109.30 690.60) rotate(-90)" text-anchor="end">NEO</text>
<text class="xl" style="font-size:6px" transform="translate(1115.03 690.60) rotate(-90)" text-anchor="end">XLM</text>
<text class="xl" style="font-size:6px" transform="translate(1120.76 690.60) rotate(-90)" text-anchor="end">EOS</text>
<text class="xl" style="font-size:6px" transform="translate(1126.50 690.60) rotate(-90)" text-anchor="end">PAXG</text>
<text class="xl" style="font-size:6px" transform="translate(1132.23 690.60) rotate(-90)" text-anchor="end">ZIL</text>
<text class="xl" style="font-size:6px" transform="translate(1137.97 690.60) rotate(-90)" text-anchor="end">BCH</text>
<text class="xl" style="font-size:6px" transform="translate(1143.70 690.60) rotate(-90)" text-anchor="end">XRP</text>
<text class="xl" style="font-size:6px" transform="translate(1149.44 690.60) rotate(-90)" text-anchor="end">THETA</text>
<text class="xl" style="font-size:6px" transform="translate(1155.17 690.60) rotate(-90)" text-anchor="end">FTM</text>
<text class="xl" style="font-size:6px" transform="translate(1160.91 690.60) rotate(-90)" text-anchor="end">BNB</text>
<text class="xl" style="font-size:6px" transform="translate(1166.64 690.60) rotate(-90)" text-anchor="end">ETC</text>
<text class="xl" style="font-size:6px" transform="translate(1172.38 690.60) rotate(-90)" text-anchor="end">VET</text>
<text class="yl" style="font-size:18.8px" x="613.00" y="518.40"><tspan class="it">ϕ</tspan><tspan class="it" style="font-size:13.2px" dy="3.6" dx="-0.3">j</tspan><tspan dy="-3.6" dx="4.7">+</tspan></text>
</g>
</svg></body></html>
